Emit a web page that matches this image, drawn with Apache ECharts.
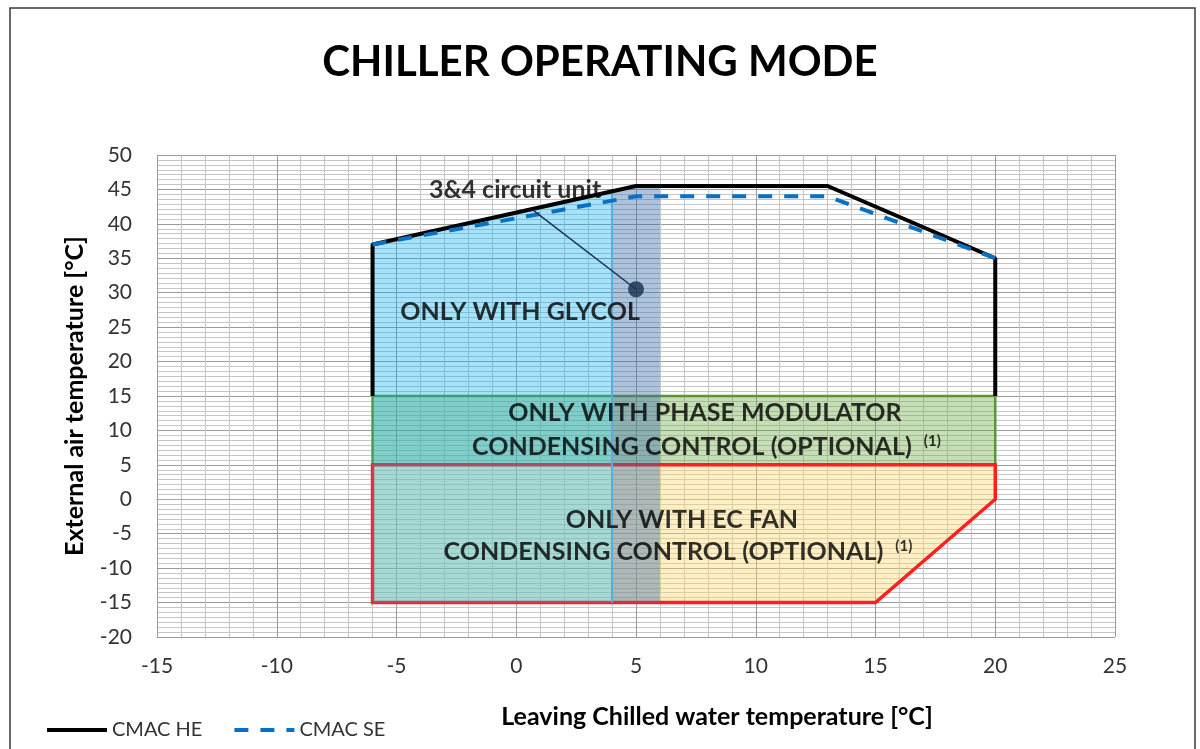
<!DOCTYPE html>
<html><head><meta charset="utf-8">
<script src="https://cdn.jsdelivr.net/npm/echarts@6/dist/echarts.min.js"></script>
<style>html,body{margin:0;padding:0;background:#fff}#c{width:1200px;height:749px}</style>
</head><body><div id="c"></div>
<script>
// ---- data ----
const xTicks = [-15, 25, 5];          // min, max, interval
const yTicks = [-20, 50, 5];
const heX = [-6, -6, 5, 13, 20, 20];
const heY = [15, 37, 45.5, 45.5, 35, 15];
const seX = [-6, 5, 13, 20];
const seY = [37, 44, 44, 35];
const glycolPoly = [[-6, -15], [-6, 37], [4, 44.7], [4, -15]];
const bandPoly = [[4, -15], [4, 44.7], [5, 45.5], [6, 45.5], [6, -15]];
const phasePoly = [[-6, 5], [-6, 15], [20, 15], [20, 5]];
const ecPoly = [[-6, 5], [20, 5], [20, 0], [15, -15], [-6, -15]];
const glycolEdge = [[4, -15], [4, 44.7]];
const pointerLine = [[0.7, 42], [5, 30.5]];
const pointerDot = [5, 30.5];
const labelText = ['3&4 circuit unit', 'ONLY WITH GLYCOL', 'ONLY WITH PHASE MODULATOR',
  'CONDENSING CONTROL (OPTIONAL) {sup|(1)}', 'ONLY WITH EC FAN', 'CONDENSING CONTROL (OPTIONAL) {sup|(1)}'];
const labelX = [-0.05, 0.16, 7.88, 7.94, 6.92, 6.75];
const labelY = [44.9, 27.2, 12.5, 7.6, -3.0, -7.65];
const seriesNames = ['CMAC HE', 'CMAC SE'];

const FONT = 'Lato';
function zip(xs, ys) { return xs.map((x, i) => [x, ys[i]]); }
function polySeries(pts, fill, stroke, lw, z) {
  return {
    type: 'custom', silent: true, z: z, data: [0],
    renderItem: function (params, api) {
      return {
        type: 'polygon',
        shape: { points: pts.map(p => api.coord(p)) },
        style: { fill: fill, stroke: stroke || 'none', lineWidth: lw || 0 }
      };
    }
  };
}

const chart = echarts.init(document.getElementById('c'), null, { renderer: 'canvas' });
chart.setOption({
  animation: false,
  backgroundColor: '#fff',
  textStyle: { fontFamily: FONT },
  title: {
    text: 'CHILLER OPERATING MODE', left: 'center', top: 36,
    textStyle: { fontFamily: FONT, fontSize: 42, fontWeight: 'bold', color: '#000' }
  },
  graphic: [{
    type: 'rect', silent: true, z: -1,
    shape: { x: 10, y: 8, width: 1185, height: 800 },
    style: { fill: 'none', stroke: '#3a3a3a', lineWidth: 1.5 }
  }],
  legend: {
    left: 40, top: 715, itemWidth: 60, itemHeight: 14, itemGap: 30,
    data: seriesNames,
    itemStyle: { opacity: 0 },
    lineStyle: { width: 4 },
    textStyle: { fontFamily: FONT, fontSize: 20, color: '#333' }
  },
  grid: { left: 157, right: 85, top: 155, bottom: 112, containLabel: false },
  xAxis: {
    type: 'value', min: xTicks[0], max: xTicks[1], interval: xTicks[2],
    name: 'Leaving Chilled water temperature [°C]', nameLocation: 'middle', nameGap: 67,
    nameTextStyle: { fontFamily: FONT, fontSize: 25, fontWeight: 'bold', color: '#000', padding: [0, 0, 0, 162] },
    axisLine: { show: true, lineStyle: { color: '#a6a6a6' } },
    axisTick: { show: false },
    axisLabel: { fontFamily: FONT, fontSize: 21, color: '#333', margin: 19 },
    splitLine: { show: true, lineStyle: { color: '#9a9a9a', width: 1 } },
    minorTick: { show: false, splitNumber: 5 },
    minorSplitLine: { show: true, lineStyle: { color: '#c6c6c6', width: 1 } }
  },
  yAxis: {
    type: 'value', min: yTicks[0], max: yTicks[1], interval: yTicks[2],
    name: 'External air temperature [°C]', nameLocation: 'middle', nameGap: 70, nameRotate: 90,
    nameTextStyle: { fontFamily: FONT, fontSize: 25, fontWeight: 'bold', color: '#000' },
    axisLine: { show: true, lineStyle: { color: '#a6a6a6' } },
    axisTick: { show: false },
    axisLabel: { fontFamily: FONT, fontSize: 21, color: '#333', margin: 25 },
    splitLine: { show: true, lineStyle: { color: '#9a9a9a', width: 1 } },
    minorTick: { show: false, splitNumber: 7 },
    minorSplitLine: { show: true, lineStyle: { color: '#c6c6c6', width: 1 } }
  },
  series: [
    polySeries(phasePoly, 'rgba(112,173,71,0.4)', '#5a9638', 2.5, 1),
    polySeries(ecPoly, 'rgba(255,215,110,0.4)', '#ff1f1f', 3.5, 2),
    polySeries(glycolPoly, 'rgba(0,176,240,0.35)', null, 0, 3),
    polySeries(bandPoly, 'rgba(60,110,170,0.42)', null, 0, 4),
    {
      type: 'line', silent: true, z: 5, data: glycolEdge, symbol: 'none',
      lineStyle: { color: '#55aedc', width: 2 }
    },
    {
      name: seriesNames[0], type: 'line', z: 7, data: zip(heX, heY), symbol: 'none',
      lineStyle: { color: '#000', width: 4 }, itemStyle: { color: '#000' }
    },
    {
      name: seriesNames[1], type: 'line', z: 8, data: zip(seX, seY), symbol: 'none',
      lineStyle: { color: '#0a70c4', width: 4, type: [14, 12] }, itemStyle: { color: '#0a70c4' }
    },
    {
      type: 'line', silent: true, z: 9, data: pointerLine, symbol: 'none',
      lineStyle: { color: '#1b3350', width: 1.5 }
    },
    {
      type: 'scatter', silent: true, z: 10, data: [pointerDot], symbolSize: 16,
      itemStyle: { color: '#17304f' }
    },
    {
      type: 'scatter', silent: true, z: 11, symbolSize: 1,
      itemStyle: { color: 'rgba(0,0,0,0)' },
      data: labelX.map((x, i) => [x, labelY[i]]),
      label: {
        show: true, position: 'inside',
        formatter: p => labelText[p.dataIndex],
        fontFamily: FONT, fontSize: 25, fontWeight: 'bold', color: '#000',
        rich: { sup: { fontFamily: FONT, fontSize: 15, fontWeight: 'bold', color: '#000', verticalAlign: 'top', padding: [0, 0, 12, 6] } }
      }
    }
  ]
});
</script></body></html>
